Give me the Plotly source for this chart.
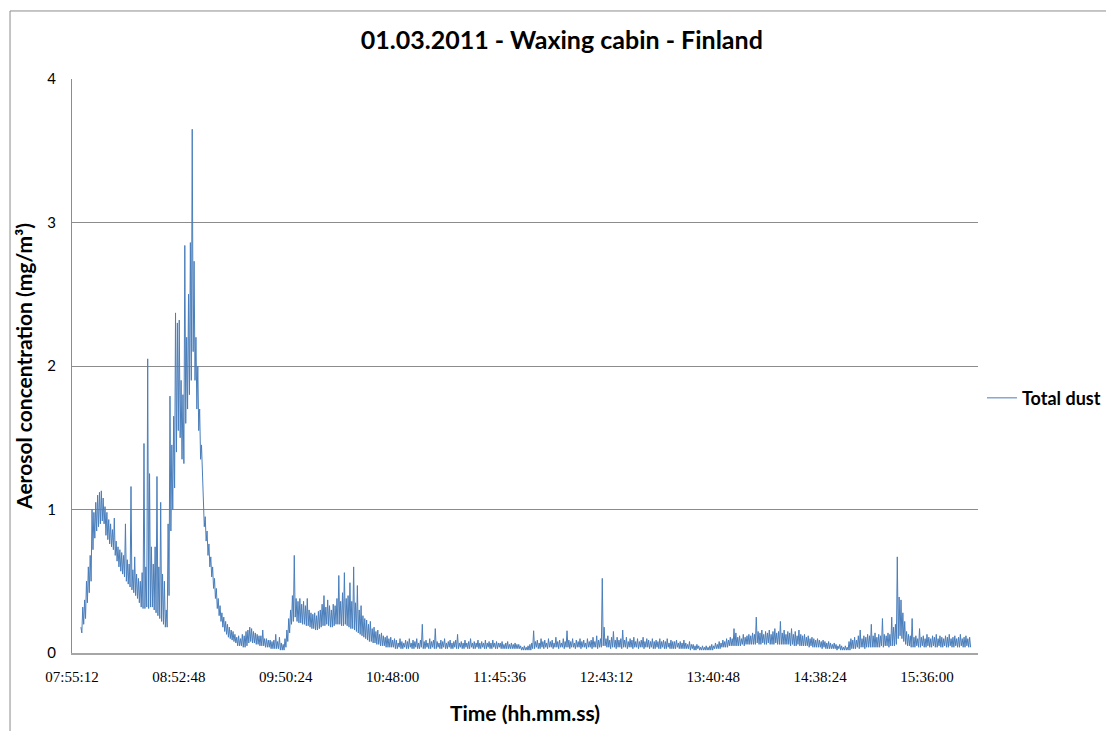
import pandas as pd
import plotly.graph_objects as go

# Total dust concentration (mg/m3), read per minute from 08:00:00:
# dust_max = top of the plotted band, dust_min = bottom of the band
start_time = "2011-03-01 08:00:00"

dust_max = [
    0.18, 0.32, 0.37, 0.50, 0.60, 0.68, 1.00, 0.98, 1.05, 1.10,
    1.12, 1.13, 1.08, 1.02, 0.98, 0.93, 0.90, 0.86, 0.94, 0.78,
    0.74, 0.72, 0.70, 0.68, 0.90, 0.65, 0.62, 1.16, 0.58, 0.67,
    0.55, 0.52, 0.50, 0.56, 1.46, 0.60, 2.05, 1.25, 0.74, 0.62,
    0.74, 1.23, 0.60, 1.05, 0.55, 0.50, 0.30, 0.90, 1.79, 1.45,
    1.65, 2.37, 2.30, 2.32, 1.90, 1.80, 2.84, 2.20, 2.50, 2.86,
    3.65, 2.73, 2.20, 2.00, 1.70, 1.45, 1.05, 0.95, 0.85, 0.76,
    0.67, 0.60, 0.52, 0.45, 0.38, 0.33, 0.28, 0.25, 0.22, 0.20,
    0.18, 0.16, 0.15, 0.13, 0.11, 0.12, 0.10, 0.13, 0.12, 0.15,
    0.16, 0.18, 0.17, 0.15, 0.14, 0.13, 0.12, 0.12, 0.16, 0.10,
    0.10, 0.09, 0.09, 0.08, 0.09, 0.13, 0.08, 0.11, 0.07, 0.06,
    0.10, 0.16, 0.24, 0.30, 0.40, 0.68, 0.38, 0.36, 0.38, 0.34,
    0.36, 0.33, 0.38, 0.30, 0.28, 0.27, 0.28, 0.26, 0.29, 0.30,
    0.34, 0.40, 0.32, 0.37, 0.33, 0.30, 0.34, 0.33, 0.38, 0.54,
    0.36, 0.42, 0.56, 0.38, 0.40, 0.49, 0.36, 0.60, 0.35, 0.47,
    0.30, 0.33, 0.26, 0.24, 0.23, 0.20, 0.22, 0.17, 0.18, 0.15,
    0.16, 0.13, 0.14, 0.12, 0.11, 0.12, 0.10, 0.11, 0.09, 0.10,
    0.09, 0.07, 0.10, 0.08, 0.07, 0.09, 0.08, 0.10, 0.07, 0.09,
    0.08, 0.10, 0.07, 0.09, 0.20, 0.08, 0.09, 0.07, 0.10, 0.08,
    0.09, 0.17, 0.08, 0.07, 0.09, 0.08, 0.10, 0.07, 0.08, 0.09,
    0.07, 0.08, 0.09, 0.13, 0.07, 0.08, 0.07, 0.09, 0.07, 0.08,
    0.10, 0.07, 0.08, 0.07, 0.09, 0.07, 0.08, 0.07, 0.09, 0.07,
    0.08, 0.07, 0.09, 0.07, 0.08, 0.07, 0.07, 0.08, 0.06, 0.07,
    0.08, 0.06, 0.07, 0.06, 0.07, 0.06, 0.06, 0.05, 0.04, 0.05,
    0.04, 0.05, 0.06, 0.07, 0.155, 0.08, 0.09, 0.07, 0.10, 0.08,
    0.09, 0.07, 0.10, 0.08, 0.09, 0.07, 0.11, 0.08, 0.09, 0.07,
    0.10, 0.08, 0.155, 0.09, 0.08, 0.10, 0.07, 0.09, 0.08, 0.10,
    0.08, 0.09, 0.07, 0.10, 0.08, 0.09, 0.11, 0.08, 0.12, 0.09,
    0.10, 0.52, 0.18, 0.10, 0.12, 0.09, 0.11, 0.15, 0.09, 0.11,
    0.09, 0.10, 0.16, 0.09, 0.11, 0.08, 0.10, 0.09, 0.11, 0.08,
    0.10, 0.08, 0.09, 0.11, 0.08, 0.10, 0.09, 0.08, 0.10, 0.08,
    0.09, 0.08, 0.10, 0.08, 0.09, 0.08, 0.10, 0.07, 0.09, 0.08,
    0.08, 0.09, 0.07, 0.08, 0.07, 0.09, 0.07, 0.06, 0.08, 0.06,
    0.06, 0.05, 0.06, 0.05, 0.04, 0.05, 0.04, 0.05, 0.04, 0.05,
    0.06, 0.05, 0.07, 0.06, 0.08, 0.07, 0.09, 0.08, 0.10, 0.09,
    0.11, 0.10, 0.17, 0.14, 0.11, 0.12, 0.10, 0.13, 0.11, 0.12,
    0.13, 0.12, 0.14, 0.13, 0.25, 0.15, 0.14, 0.16, 0.13, 0.15,
    0.14, 0.16, 0.13, 0.15, 0.17, 0.14, 0.15, 0.22, 0.14, 0.16,
    0.13, 0.15, 0.14, 0.17, 0.13, 0.15, 0.12, 0.16, 0.13, 0.12,
    0.13, 0.11, 0.12, 0.10, 0.11, 0.10, 0.09, 0.10, 0.09, 0.08,
    0.09, 0.08, 0.07, 0.08, 0.07, 0.06, 0.07, 0.06, 0.05, 0.06,
    0.05, 0.04, 0.05, 0.04, 0.08, 0.10, 0.09, 0.11, 0.09, 0.12,
    0.16, 0.10, 0.12, 0.11, 0.13, 0.12, 0.20, 0.12, 0.14, 0.11,
    0.13, 0.12, 0.24, 0.13, 0.12, 0.14, 0.13, 0.25, 0.18, 0.20,
    0.67, 0.39, 0.37, 0.28, 0.22, 0.15, 0.13, 0.12, 0.24, 0.11,
    0.12, 0.10, 0.17, 0.11, 0.12, 0.10, 0.13, 0.11, 0.10, 0.12,
    0.11, 0.13, 0.10, 0.12, 0.11, 0.10, 0.12, 0.11, 0.13, 0.10,
    0.11, 0.12, 0.10, 0.11, 0.13, 0.10, 0.11, 0.12, 0.10, 0.11,
]

dust_min = [
    0.14, 0.20, 0.24, 0.35, 0.42, 0.50, 0.72, 0.80, 0.85, 0.88,
    0.90, 0.92, 0.90, 0.82, 0.79, 0.76, 0.74, 0.72, 0.68, 0.64,
    0.60, 0.57, 0.55, 0.53, 0.50, 0.48, 0.46, 0.44, 0.42, 0.40,
    0.38, 0.35, 0.32, 0.31, 0.31, 0.32, 0.31, 0.32, 0.32, 0.30,
    0.28, 0.26, 0.24, 0.22, 0.20, 0.18, 0.18, 0.40, 0.85, 1.00,
    1.15, 1.40, 1.55, 1.50, 1.35, 1.32, 1.60, 1.70, 1.80, 1.90,
    2.10, 1.90, 1.70, 1.55, 1.35, 1.20, 0.88, 0.78, 0.68, 0.60,
    0.53, 0.45, 0.38, 0.31, 0.26, 0.22, 0.18, 0.15, 0.13, 0.11,
    0.10, 0.09, 0.08, 0.07, 0.05, 0.05, 0.05, 0.04, 0.04, 0.05,
    0.07, 0.08, 0.07, 0.07, 0.06, 0.06, 0.05, 0.05, 0.05, 0.04,
    0.04, 0.04, 0.03, 0.03, 0.03, 0.03, 0.03, 0.02, 0.02, 0.02,
    0.04, 0.08, 0.14, 0.20, 0.22, 0.25, 0.22, 0.21, 0.21, 0.20,
    0.20, 0.19, 0.19, 0.18, 0.17, 0.17, 0.16, 0.16, 0.17, 0.18,
    0.19, 0.19, 0.20, 0.19, 0.18, 0.18, 0.19, 0.20, 0.20, 0.20,
    0.19, 0.19, 0.20, 0.19, 0.18, 0.17, 0.17, 0.16, 0.15, 0.14,
    0.13, 0.12, 0.11, 0.10, 0.09, 0.08, 0.08, 0.07, 0.07, 0.06,
    0.06, 0.05, 0.05, 0.05, 0.04, 0.04, 0.04, 0.04, 0.04, 0.03,
    0.03, 0.04, 0.03, 0.03, 0.04, 0.03, 0.03, 0.04, 0.03, 0.03,
    0.04, 0.03, 0.03, 0.04, 0.03, 0.03, 0.04, 0.03, 0.03, 0.04,
    0.03, 0.03, 0.04, 0.03, 0.03, 0.04, 0.03, 0.03, 0.04, 0.03,
    0.03, 0.04, 0.03, 0.03, 0.04, 0.03, 0.03, 0.04, 0.03, 0.03,
    0.04, 0.03, 0.03, 0.04, 0.03, 0.03, 0.04, 0.03, 0.03, 0.04,
    0.03, 0.03, 0.04, 0.03, 0.03, 0.04, 0.03, 0.03, 0.03, 0.03,
    0.03, 0.03, 0.03, 0.03, 0.03, 0.03, 0.03, 0.02, 0.02, 0.02,
    0.02, 0.02, 0.02, 0.03, 0.03, 0.04, 0.03, 0.03, 0.04, 0.03,
    0.04, 0.03, 0.04, 0.04, 0.03, 0.04, 0.04, 0.03, 0.04, 0.04,
    0.03, 0.04, 0.04, 0.03, 0.04, 0.04, 0.03, 0.04, 0.04, 0.03,
    0.04, 0.04, 0.03, 0.04, 0.04, 0.03, 0.04, 0.04, 0.03, 0.04,
    0.04, 0.05, 0.05, 0.04, 0.04, 0.03, 0.04, 0.04, 0.03, 0.04,
    0.04, 0.03, 0.04, 0.04, 0.03, 0.04, 0.04, 0.03, 0.04, 0.04,
    0.03, 0.04, 0.04, 0.03, 0.04, 0.04, 0.03, 0.04, 0.03, 0.03,
    0.04, 0.03, 0.03, 0.04, 0.03, 0.03, 0.04, 0.03, 0.03, 0.03,
    0.03, 0.04, 0.03, 0.03, 0.03, 0.03, 0.03, 0.03, 0.02, 0.03,
    0.02, 0.02, 0.03, 0.02, 0.02, 0.02, 0.02, 0.02, 0.02, 0.02,
    0.02, 0.03, 0.03, 0.03, 0.03, 0.04, 0.04, 0.04, 0.04, 0.05,
    0.05, 0.05, 0.05, 0.05, 0.05, 0.05, 0.06, 0.05, 0.06, 0.06,
    0.06, 0.06, 0.06, 0.06, 0.07, 0.06, 0.06, 0.07, 0.06, 0.06,
    0.07, 0.06, 0.06, 0.06, 0.07, 0.06, 0.06, 0.06, 0.06, 0.06,
    0.06, 0.06, 0.05, 0.06, 0.05, 0.05, 0.06, 0.05, 0.05, 0.05,
    0.05, 0.05, 0.04, 0.05, 0.04, 0.04, 0.04, 0.04, 0.04, 0.03,
    0.04, 0.03, 0.03, 0.03, 0.03, 0.03, 0.03, 0.02, 0.03, 0.02,
    0.02, 0.02, 0.02, 0.02, 0.02, 0.03, 0.03, 0.03, 0.04, 0.03,
    0.04, 0.04, 0.03, 0.04, 0.04, 0.04, 0.04, 0.04, 0.04, 0.04,
    0.04, 0.05, 0.04, 0.05, 0.05, 0.04, 0.05, 0.05, 0.05, 0.06,
    0.10, 0.12, 0.10, 0.08, 0.06, 0.05, 0.05, 0.04, 0.04, 0.04,
    0.05, 0.04, 0.04, 0.05, 0.04, 0.04, 0.05, 0.04, 0.04, 0.05,
    0.04, 0.04, 0.05, 0.04, 0.04, 0.05, 0.04, 0.04, 0.05, 0.04,
    0.04, 0.05, 0.04, 0.04, 0.05, 0.04, 0.04, 0.05, 0.04, 0.04,
]

tick_labels = ["07:55:12", "08:52:48", "09:50:24", "10:48:00", "11:45:36",
               "12:43:12", "13:40:48", "14:38:24", "15:36:00"]
y_ticks = [0, 1, 2, 3, 4]

# each minute: band top at the start of the minute, band bottom half a minute later
n = min(len(dust_max), len(dust_min))
minutes = pd.date_range(start_time, periods=n, freq="60s")
top = pd.Series(dust_max[:n], index=minutes)
bottom = pd.Series(dust_min[:n], index=minutes + pd.Timedelta(seconds=30))
series = pd.concat([top, bottom]).sort_index()

tick_vals = ["2011-03-01 " + t for t in tick_labels]

fig = go.Figure()
fig.add_trace(go.Scatter(
    x=series.index, y=series.values, mode="lines", name="<b>Total dust</b>",
    line=dict(color="#4A7EBB", width=1),
))

font_main = "Lato, 'Open Sans', sans-serif"

fig.update_layout(
    width=1106, height=731,
    margin=dict(l=72, r=128, t=79, b=78, autoexpand=False),
    paper_bgcolor="white", plot_bgcolor="white",
    title=dict(text="<b>01.03.2011 - Waxing cabin - Finland</b>",
               x=0.508, xanchor="center", y=0.945, yanchor="middle",
               font=dict(family=font_main, size=25, color="black")),
    showlegend=True,
    legend=dict(x=1.0044, y=0.444, xanchor="left", yanchor="middle",
                font=dict(family=font_main, size=18, color="black"),
                bgcolor="rgba(0,0,0,0)", itemwidth=30),
    xaxis=dict(
        type="date", automargin=False,
        range=["2011-03-01 07:55:12", "2011-03-01 16:03:30"],
        tickvals=tick_vals, ticktext=tick_labels,
        showgrid=False, zeroline=False,
        showline=True, linecolor="#A6A6A6", linewidth=2,
        ticks="", ticklabelstandoff=9,
        tickfont=dict(family="'Liberation Serif', serif", size=15, color="black"),
        title=dict(text="<b>Time (hh.mm.ss)</b>", standoff=22,
                   font=dict(family=font_main, size=21, color="black")),
    ),
    yaxis=dict(
        range=[0, 4], tickvals=y_ticks, automargin=False,
        showgrid=True, gridcolor="#8C8C8C", gridwidth=1,
        zeroline=False, showline=True, linecolor="#8C8C8C", linewidth=1,
        ticks="", ticklabelstandoff=12,
        tickfont=dict(family=font_main, size=15, color="black"),
        title=dict(text="<b>Aerosol concentration (mg/m³)</b>", standoff=8,
                   font=dict(family=font_main, size=21, color="black")),
    ),
)

fig.add_shape(type="rect", xref="paper", yref="paper",
              x0=-0.0684, x1=1.2, y0=-0.3, y1=1.1185,
              line=dict(color="#8C8C8C", width=1), fillcolor="rgba(0,0,0,0)",
              layer="below")

fig.write_html("out.html", config={"displayModeBar": False},
               post_script="document.body.style.margin='0px';document.body.style.overflow='hidden';")
